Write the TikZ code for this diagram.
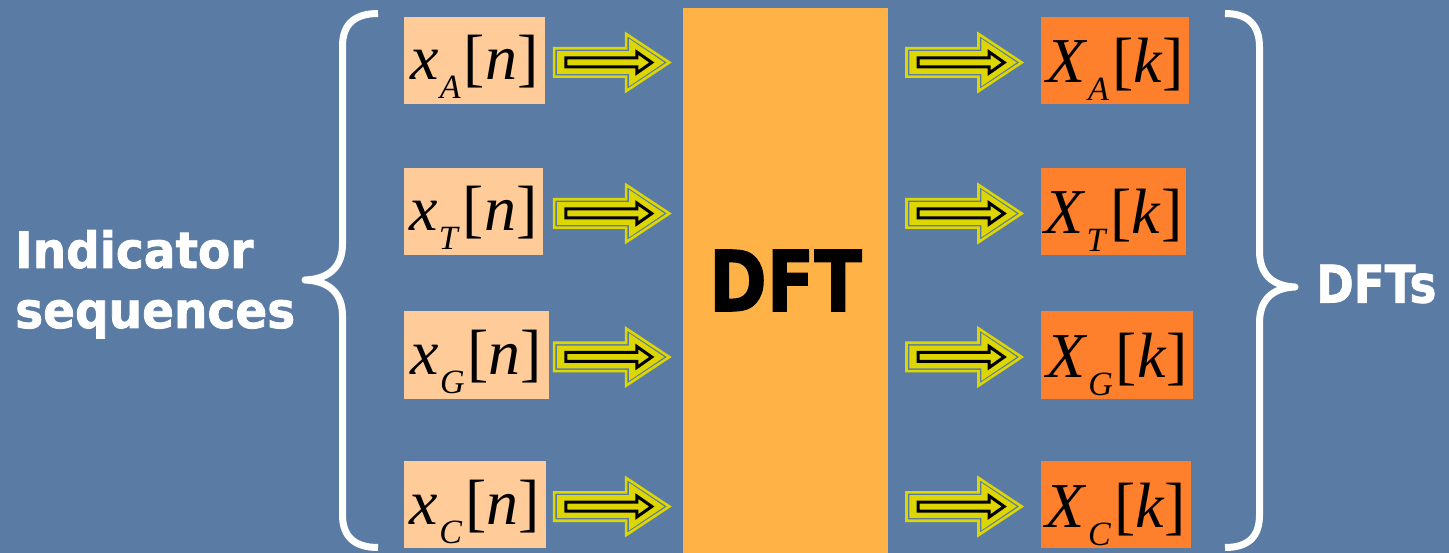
\documentclass[tikz,border=0pt]{standalone}
\usepackage{fontspec}
\setmainfont{Liberation Serif}
\newfontfamily\labelfont[FakeBold=1.6]{DejaVu Sans Bold}
\usetikzlibrary{calc}
\definecolor{bgblue}{RGB}{90,124,164}
\definecolor{peach}{RGB}{255,204,153}
\definecolor{dftorange}{RGB}{255,179,71}
\definecolor{outorange}{RGB}{255,128,44}
\definecolor{arrowyellow}{RGB}{221,214,0}
\newcommand{\seqsym}[4]{\textit{#1}\kern1pt\raisebox{-#4pt}{\fontsize{34}{34}\selectfont\textit{#2}}\kern3pt[\textit{#3}]}
\tikzset{
  inbox/.style={fill=peach, inner xsep=0pt, inner ysep=0pt, text height=63pt, text depth=24pt,
    font=\fontsize{64}{64}\selectfont},
  outbox/.style={fill=outorange, inner xsep=0pt, inner ysep=0pt, text height=66pt, text depth=21pt,
    font=\fontsize{64}{64}\selectfont},
  bracestyle/.style={draw=white, line width=7pt, line cap=butt, line join=round},
  whitelabel/.style={text=white, inner sep=0pt, font=\labelfont},
  blockarrow/.pic={
    \draw[draw=arrowyellow, line width=2.6pt]
      (1.3,-14.2) -- (73.3,-14.2) -- (73.3,-28.6) -- (116.5,0) -- (73.3,28.6) -- (73.3,14.2) -- (1.3,14.2) -- cycle;
    \fill[arrowyellow]
      (4.2,-11.3) -- (76.2,-11.3) -- (76.2,-23.8) -- (111.5,0) -- (76.2,23.8) -- (76.2,11.3) -- (4.2,11.3) -- cycle;
    \draw[draw=black, fill=arrowyellow, line width=3pt, line join=miter]
      (13,-4.5) -- (84,-4.5) -- (84,-10.5) -- (99,0) -- (84,10.5) -- (84,4.5) -- (13,4.5) -- cycle;
  }
}
\begin{document}
\begin{tikzpicture}[x=1pt,y=-1pt]
\fill[bgblue] (0,0) rectangle (1449,553);
\useasboundingbox (0,0) rectangle (1449,553);

% central DFT block
\node[fill=dftorange, minimum width=205pt, minimum height=545pt, inner sep=0pt,
  font=\labelfont\fontsize{84}{84}\selectfont] (dft) at (785.5,280.5) {\raisebox{-2pt}{\scalebox{0.83}[1]{DFT}}};

% input sequences
\node[inbox, minimum width=141pt] (xA) at (474.5,60.5) {\seqsym{x}{A}{n}{19}};
\node[inbox, minimum width=139pt] (xT) at (473.5,211.5) {\seqsym{x}{T}{n}{19}};
\node[inbox, minimum width=145pt] (xG) at (476.5,355) {\seqsym{x}{G}{n}{19}};
\node[inbox, minimum width=142pt] (xC) at (475,504.5) {\seqsym{x}{C}{n}{19}};

% output DFTs
\node[outbox, minimum width=148pt] (XA) at (1115,60.5) {\seqsym{X}{A}{k}{18}};
\node[outbox, minimum width=145pt] (XT) at (1113.5,211.5) {\seqsym{X}{T}{k}{18}};
\node[outbox, minimum width=152pt] (XG) at (1117,355) {\seqsym{X}{G}{k}{18}};
\node[outbox, minimum width=150pt] (XC) at (1116,504.5) {\seqsym{X}{C}{k}{18}};

% block arrows
\foreach \n in {xA,xT,xG,xC}{
  \pic at ($(dft.west |- \n.center)+(-130,2)$) {blockarrow};
}
\foreach \n in {XA,XT,XG,XC}{
  \pic at ($(dft.east |- \n.center)+(17,2)$) {blockarrow};
}

% braces
\draw[bracestyle] (378,13.5) .. controls (355,13.5) and (342.5,24) .. (342.5,46) -- (342.5,244)
  .. controls (342.5,266) and (330,279) .. (305,280)
  .. controls (330,281) and (342.5,294) .. (342.5,316) -- (342.5,515)
  .. controls (342.5,537) and (355,547.5) .. (378,547.5);
\draw[bracestyle] (1225,13.5) .. controls (1248,13.5) and (1259.5,25) .. (1259.5,47) -- (1259.5,251)
  .. controls (1259.5,273) and (1271,286) .. (1295,287)
  .. controls (1271,288) and (1259.5,301) .. (1259.5,323) -- (1259.5,515)
  .. controls (1259.5,537) and (1248,547.5) .. (1225,547.5);

% labels
\node[whitelabel, anchor=west] (ind) at (15,286)
  {\fontsize{50}{60}\selectfont\scalebox{0.94}[1]{\begin{tabular}{@{}l@{}}Indicator\\sequences\end{tabular}}};
\node[whitelabel, anchor=west] (dfts) at (1316,284)
  {\fontsize{52}{52}\selectfont\scalebox{0.87}[1]{DFTs}};
\end{tikzpicture}
\end{document}
